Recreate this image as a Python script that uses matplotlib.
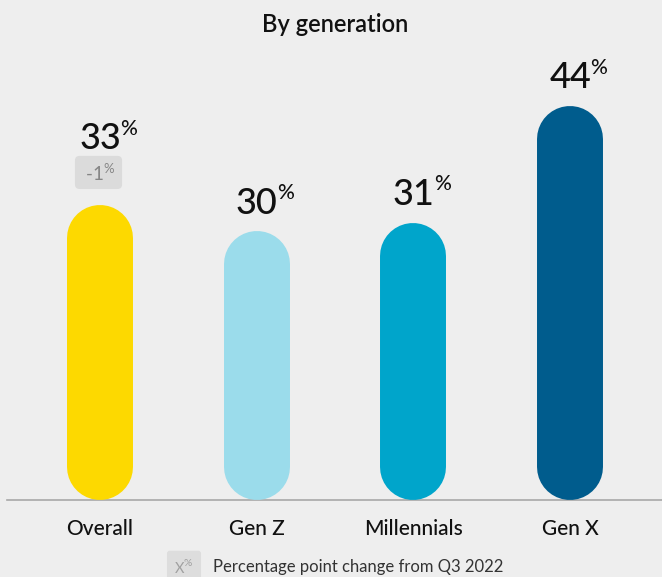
import matplotlib.pyplot as plt
import numpy as np

plt.rcParams['font.family'] = ['Lato', 'DejaVu Sans']
plt.rcParams['mathtext.fontset'] = 'custom'
plt.rcParams['mathtext.rm'] = 'Lato'

categories = ['Overall', 'Gen Z', 'Millennials', 'Gen X']
values = [33, 30, 31, 44]
changes = ['-1', None, None, None]
colors = ['#FDD900', '#9BDCEB', '#00A5CB', '#005C8D']
bg = '#EEEEEE'

W, H = 662, 577
fig = plt.figure(figsize=(W / 100, H / 100), dpi=100, facecolor=bg)
ax = fig.add_axes([7 / W, 77 / H, 655 / W, 447.5 / H])
ax.set_facecolor(bg)
ax.set_xlim(-0.594, 3.586)
ax.set_ylim(0, 50)
for s in ax.spines.values():
    s.set_visible(False)
ax.spines['bottom'].set_visible(True)
ax.spines['bottom'].set_color('#A8A8A8')
ax.spines['bottom'].set_linewidth(1.2)
ax.spines['bottom'].set_zorder(0)
ax.set_yticks([])
ax.set_xticks([])

x = np.arange(len(categories))
bw = 0.421

# pill bars: a thick line with round caps, cap radius converted to y units
xpp = (3.586 + 0.594) / 655
ypp = 50 / 447.5
ry = bw / 2 * ypp / xpp
lw = bw / xpp * 72 / 100

for xi, v, c in zip(x, values, colors):
    ax.plot([xi, xi], [ry, v - ry], color=c, lw=lw,
            solid_capstyle='round', zorder=2)

for xi, v, ch in zip(x, values, changes):
    base = v + (6.2 if ch else 2.0)
    t = ax.text(xi, base, str(v), ha='center', va='baseline',
                fontsize=26, color='#111111', fontweight='medium')
    ax.annotate('%', xy=(1, 1), xycoords=t, xytext=(-0.5, 2.5),
                textcoords='offset points', ha='left', va='top',
                fontsize=15, color='#111111', fontweight='medium')
    if ch:
        ax.text(xi - 0.01, v + 3.6, ' ' + ch + r'$^{\%}$ ', ha='center',
                va='center', fontsize=13.5, color='#858585', zorder=4,
                bbox=dict(boxstyle='round,pad=0.3,rounding_size=0.25',
                          fc='#DBDBDB', ec='none'))

for xi, cat in zip(x, categories):
    ax.text(xi, -3.2, cat, ha='center', va='center', fontsize=15,
            color='#111111', fontweight='medium')

fig.text(335 / W, 1 - 24 / H, 'By generation', ha='center', va='center',
         fontsize=17, color='#111111', fontweight='semibold')

fig.text(184 / W, 1 - 567 / H, r'X$^{\%}$', ha='center', va='center',
         fontsize=10.5, color='#A0A0A0',
         bbox=dict(boxstyle='round,pad=0.5,rounding_size=0.2',
                   fc='#DDDDDD', ec='none'))
fig.text(213 / W, 1 - 567 / H, 'Percentage point change from Q3 2022',
         ha='left', va='center', fontsize=12, color='#333333')

fig.savefig('out.png', dpi=100, facecolor=bg)
